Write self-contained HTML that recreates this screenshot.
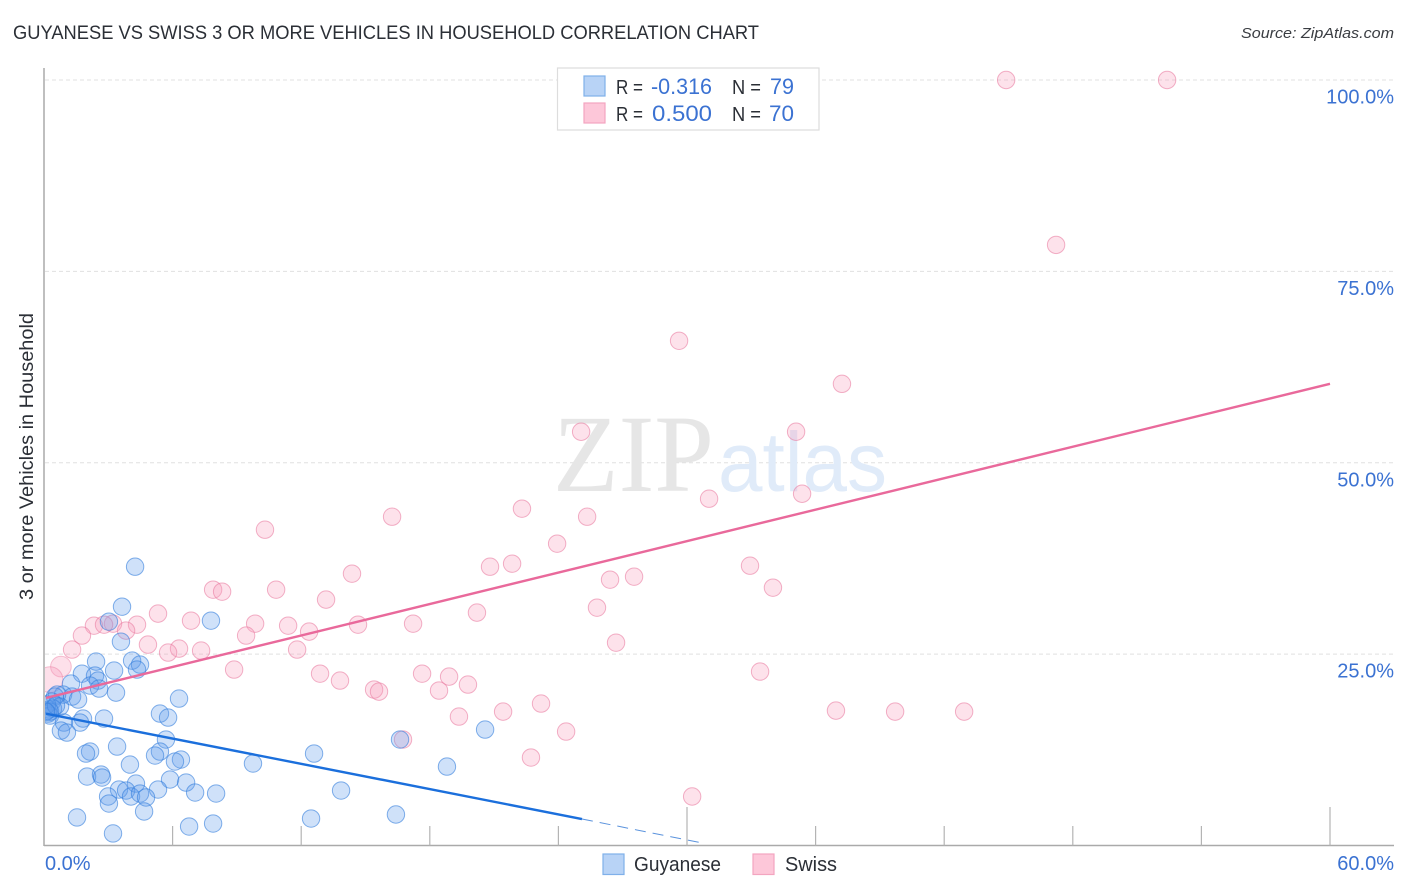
<!DOCTYPE html>
<html lang="en">
<head>
<meta charset="utf-8">
<title>Guyanese vs Swiss 3 or More Vehicles in Household Correlation Chart</title>
<style>
html,body{margin:0;padding:0;background:#fff;}
svg{display:block;font-family:"Liberation Sans",sans-serif;}
</style>
</head>
<body>
<svg id="chart" xmlns="http://www.w3.org/2000/svg" width="1406" height="892" viewBox="0 0 1406 892">
  <defs>
    <clipPath id="plot-clip"><rect x="45" y="60" width="1349" height="786"></rect></clipPath>
  </defs>
  <rect x="0" y="0" width="1406" height="892" fill="#ffffff"></rect>
  <text x="13" y="39" font-size="19" fill="#2b2f36" textLength="746" lengthAdjust="spacingAndGlyphs">GUYANESE VS SWISS 3 OR MORE VEHICLES IN HOUSEHOLD CORRELATION CHART</text>
  <text x="1241" y="38" font-size="15" font-style="italic" fill="#3a3d42" textLength="153" lengthAdjust="spacingAndGlyphs">Source: ZipAtlas.com</text>

  <g id="grid"></g>

  <g>
    <text x="553" y="491" font-family="'Liberation Serif',serif" font-size="110" fill="#e6e6e6" textLength="161" lengthAdjust="spacingAndGlyphs">ZIP</text>
    <text x="718" y="491" font-size="84" fill="#e0ebf9" textLength="169" lengthAdjust="spacingAndGlyphs">atlas</text>
  </g>

  <g id="axes"></g>
  <g id="swiss-points" clip-path="url(#plot-clip)"></g>
  <g id="guyanese-points" clip-path="url(#plot-clip)"></g>
  <g id="trends"></g>
  <g id="tick-labels"></g>

  <text transform="translate(33,600) rotate(-90)" x="0" y="0" font-size="19" fill="#2b2f36" textLength="287" lengthAdjust="spacingAndGlyphs">3 or more Vehicles in Household</text>

  <g>
    <rect x="557.5" y="68" width="261.5" height="62" fill="#ffffff" stroke="#dddddd" stroke-width="1.2"></rect>
    <rect x="584" y="76" width="21" height="20" fill="#b8d3f6" stroke="#7fb0ea" stroke-width="1.2"></rect>
    <rect x="584" y="103" width="21" height="20" fill="#fdc7d9" stroke="#f3a5c0" stroke-width="1.2"></rect>
    <text x="616" y="94" font-size="20" fill="#2b2f36" textLength="27" lengthAdjust="spacingAndGlyphs">R =</text>
    <text x="651" y="94" font-size="22" fill="#3b72d2" textLength="61" lengthAdjust="spacingAndGlyphs">-0.316</text>
    <text x="732" y="94" font-size="20" fill="#2b2f36" textLength="29" lengthAdjust="spacingAndGlyphs">N =</text>
    <text x="770" y="94" font-size="22" fill="#3b72d2" textLength="24" lengthAdjust="spacingAndGlyphs">79</text>
    <text x="616" y="121" font-size="20" fill="#2b2f36" textLength="27" lengthAdjust="spacingAndGlyphs">R =</text>
    <text x="652" y="121" font-size="22" fill="#3b72d2" textLength="60" lengthAdjust="spacingAndGlyphs">0.500</text>
    <text x="732" y="121" font-size="20" fill="#2b2f36" textLength="29" lengthAdjust="spacingAndGlyphs">N =</text>
    <text x="769" y="121" font-size="22" fill="#3b72d2" textLength="25" lengthAdjust="spacingAndGlyphs">70</text>
  </g>

  <g>
    <rect x="603" y="854" width="21" height="20.5" fill="#b8d3f6" stroke="#7fb0ea" stroke-width="1.2"></rect>
    <text x="634" y="871" font-size="20" fill="#2b2f36" textLength="87" lengthAdjust="spacingAndGlyphs">Guyanese</text>
    <rect x="753" y="854" width="21" height="20.5" fill="#fdc7d9" stroke="#f3a5c0" stroke-width="1.2"></rect>
    <text x="785" y="871" font-size="20" fill="#2b2f36" textLength="52" lengthAdjust="spacingAndGlyphs">Swiss</text>
  </g>
</svg>
<script>
const yTickValues = [25, 50, 75, 100];
const yTickLabels = ["25.0%", "50.0%", "75.0%", "100.0%"];
const xTickValues = [6, 12, 18, 24, 30, 36, 42, 48, 54, 60];
const xEdgeValues = [0, 60];
const xEdgeLabels = ["0.0%", "60.0%"];

const swissX = [44.89,52.40,47.22,29.63,37.23,25.06,35.09,35.37,31.03,22.30,16.24,25.34,10.31,23.94,32.94,21.84,20.81,14.37,27.53,26.41,34.01,7.89,8.31,10.83,13.16,25.80,20.20,5.32,6.86,14.65,17.22,11.39,9.85,4.34,3.22,2.33,2.80,3.83,12.37,1.77,9.43,26.69,4.85,1.31,6.30,5.79,7.33,11.81,8.87,33.41,12.88,17.64,18.90,13.81,19.78,15.40,15.63,18.43,23.19,21.42,19.36,36.95,39.71,42.93,24.36,16.75,22.72,30.24];
const swissY = [100,100,78.46,65.93,60.31,54.05,54.05,45.95,45.30,44.00,42.95,42.95,41.25,39.43,36.55,36.82,36.42,35.51,35.12,34.73,33.68,33.42,33.16,33.42,32.12,31.07,30.42,30.29,29.37,28.85,28.98,28.72,28.98,28.85,28.98,28.72,28.85,28.07,27.94,27.42,27.42,26.50,26.24,25.59,25.72,25.20,25.46,25.59,22.98,22.72,22.45,22.45,22.06,21.54,21.02,20.37,20.10,20.24,18.54,17.49,16.84,17.62,17.49,17.49,14.88,13.84,11.49,6.40];
const swissLargeX = [0.79, 0.28];
const swissLargeY = [23.37, 21.67];
const swissLargeWeight = [1.2, 1.5];

const guyaneseX = [4.25,3.64,7.79,3.03,3.59,2.43,4.11,4.48,4.34,3.27,1.77,2.38,2.52,1.26,2.15,3.36,2.57,0.89,1.31,1.59,6.30,0.61,0.51,0.37,0.75,0.23,0.42,0.19,0.28,5.41,5.79,2.80,1.82,1.68,0.93,0.79,1.07,20.58,5.69,16.61,3.41,2.15,1.96,5.41,5.18,12.60,6.39,6.11,9.75,4.01,18.80,2.01,2.66,2.71,5.88,6.63,4.29,3.50,3.83,5.32,7.05,8.03,13.86,4.06,4.48,4.76,2.99,3.03,4.67,16.42,1.54,12.46,7.89,6.77,3.22,0.14,0.28,0.56,0.09];
const guyaneseY = [36.42,31.20,29.37,29.24,26.63,24.02,24.15,23.63,22.98,22.85,22.45,22.19,21.54,21.15,20.89,19.97,20.50,19.71,19.45,19.06,19.19,19.71,19.45,18.80,18.15,17.76,17.89,17.23,16.97,17.23,16.71,16.58,16.58,16.06,16.06,15.01,14.75,15.14,13.84,13.84,12.92,12.27,12.01,12.27,11.75,12.01,11.23,10.97,10.71,10.57,10.31,9.01,9.27,8.88,8.62,8.22,8.09,7.31,7.18,7.31,6.92,6.79,7.18,6.40,6.79,6.27,6.40,5.48,4.44,4.05,3.66,3.52,2.87,2.48,1.57,18.41,17.49,18.28,17.49];

const swissTrendX = [0, 60];
const swissTrendY = [19.2, 60.31];
const guyaneseTrendX = [0, 25.1];
const guyaneseTrendY = [17.27, 3.46];
const guyaneseExtensionX = [25.1, 30.6];
const guyaneseExtensionY = [3.46, 0.39];

const NS = "http://www.w3.org/2000/svg";
function xScale(v) { return 44 + v * (1286 / 60); }
function yScale(v) { return 845.5 - v * (765.5 / 100); }
function make(tag, attrs, parent) {
  const el = document.createElementNS(NS, tag);
  for (const k in attrs) el.setAttribute(k, attrs[k]);
  parent.appendChild(el);
  return el;
}
const gridG = document.getElementById("grid");
const axesG = document.getElementById("axes");
const labelG = document.getElementById("tick-labels");
const swissG = document.getElementById("swiss-points");
const guyG = document.getElementById("guyanese-points");
const trendG = document.getElementById("trends");

yTickValues.forEach(function (v, i) {
  const line = make("line", {x1: 45, x2: 1394, y1: yScale(v), y2: yScale(v), stroke: "#e0e0e0", "stroke-width": 1, "stroke-dasharray": "4 3"}, gridG);
  
  
  const label = make("text", {x: 1394, y: yScale(v) + 23.5, "text-anchor": "end", "font-size": 20, fill: "#3b72d2"}, labelG);
  
  
  label.textContent = yTickLabels[i];
});

const yAxis = make("line", {x1: 44, x2: 44, y1: 68, y2: 846, stroke: "#aaaaaa", "stroke-width": 1.5}, axesG);


const xAxis = make("line", {x1: 44, x2: 1394, y1: 845.5, y2: 845.5, stroke: "#aaaaaa", "stroke-width": 1.5}, axesG);



xTickValues.forEach(function (v) {
  const tall = v % 30 === 0;
  const tick = make("line", {x1: xScale(v), x2: xScale(v), y1: tall ? 807 : 826, y2: 845.5, stroke: "#b4b4b4", "stroke-width": 1.2}, axesG);
  
  
});

xEdgeValues.forEach(function (v, i) {
  const label = make("text", {x: i === 0 ? xScale(v) + 1 : 1394, y: 870, "text-anchor": i === 0 ? "start" : "end", "font-size": 20, fill: "#3b72d2"}, labelG);
  
  
  label.textContent = xEdgeLabels[i];
});

swissLargeX.forEach(function (v, i) {
  const c = make("circle", {cx: xScale(v), cy: yScale(swissLargeY[i]), r: 8.6 * swissLargeWeight[i], fill: "rgba(248,160,190,0.32)", stroke: "rgba(236,130,165,0.5)", "stroke-width": 1}, swissG);
  
  
});
swissX.forEach(function (v, i) {
  const c = make("circle", {cx: xScale(v), cy: yScale(swissY[i]), r: 8.7, fill: "rgba(248,160,190,0.3)", stroke: "rgba(234,125,162,0.6)", "stroke-width": 1}, swissG);
  
  
});
guyaneseX.forEach(function (v, i) {
  const c = make("circle", {cx: xScale(v), cy: yScale(guyaneseY[i]), r: 8.7, fill: "rgba(95,155,235,0.3)", stroke: "rgba(50,125,220,0.6)", "stroke-width": 1}, guyG);
  
  
});

const swissTrend = make("line", {x1: xScale(swissTrendX[0]) + 2, y1: yScale(swissTrendY[0]) - 0.6, x2: xScale(swissTrendX[1]), y2: yScale(swissTrendY[1]), stroke: "#e9699b", "stroke-width": 2.4}, trendG);


const guyTrend = make("line", {x1: xScale(guyaneseTrendX[0]) + 2, y1: yScale(guyaneseTrendY[0]) + 0.4, x2: xScale(guyaneseTrendX[1]), y2: yScale(guyaneseTrendY[1]), stroke: "#1b6fdc", "stroke-width": 2.4}, trendG);


const guyExt = make("line", {x1: xScale(guyaneseExtensionX[0]), y1: yScale(guyaneseExtensionY[0]), x2: xScale(guyaneseExtensionX[1]), y2: yScale(guyaneseExtensionY[1]), stroke: "#5b93dd", "stroke-width": 1, "stroke-dasharray": "11 7"}, trendG);


</script>
</body>
</html>
